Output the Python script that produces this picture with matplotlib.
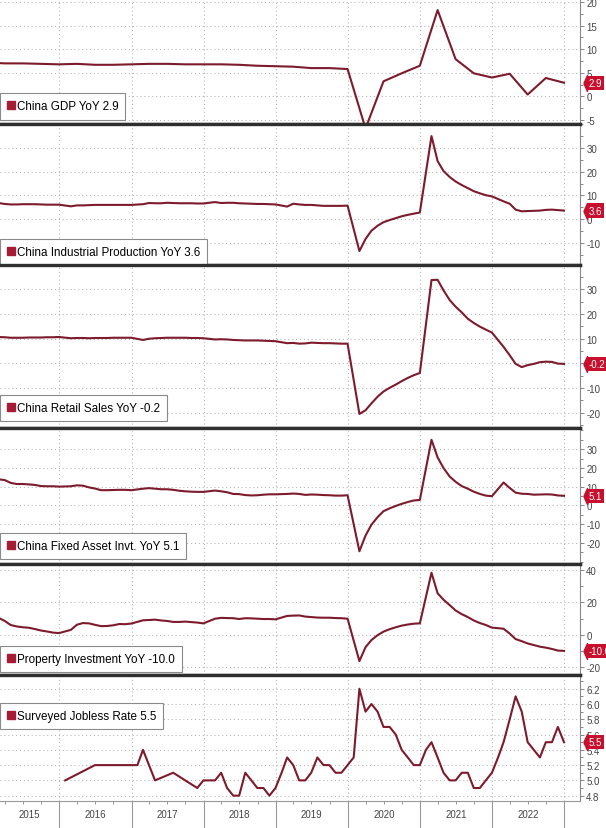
import numpy as np
import pandas as pd
import matplotlib.pyplot as plt
import matplotlib.dates as mdates
import matplotlib.transforms as mtransforms
from matplotlib.lines import Line2D
from matplotlib.ticker import FixedLocator, MultipleLocator, FormatStrFormatter

plt.rcParams['font.family'] = ['Liberation Sans', 'DejaVu Sans']

# ---- data (YoY %) ----
gdp_dates = pd.date_range('2014-12-31', '2022-12-31', freq='QE')
gdp = [7.2,
       7.0, 7.0, 6.9, 6.8,
       6.9, 6.7, 6.7, 6.8,
       6.9, 6.9, 6.8, 6.8,
       6.8, 6.7, 6.5, 6.4,
       6.3, 6.0, 6.0, 5.8,
       -6.8, 3.2, 4.9, 6.5,
       18.3, 7.9, 4.9, 4.0,
       4.8, 0.4, 3.9, 2.9]

# year-to-date series: Jan-Feb combined, so no January print
ytd_dates = [d for d in pd.date_range('2015-01-31', '2022-12-31', freq='ME') if d.month != 1]

ind_prod = [6.8, 6.4, 6.2, 6.2, 6.3, 6.3, 6.3, 6.2, 6.1, 6.1, 6.1,
            5.4, 5.8, 5.8, 5.9, 6.0, 6.0, 6.0, 6.0, 6.0, 6.0, 6.0,
            6.3, 6.8, 6.7, 6.7, 6.9, 6.8, 6.7, 6.7, 6.7, 6.6, 6.6,
            7.2, 6.8, 6.9, 6.9, 6.7, 6.6, 6.5, 6.4, 6.4, 6.3, 6.2,
            5.3, 6.5, 6.2, 6.0, 6.0, 5.8, 5.6, 5.6, 5.6, 5.6, 5.7,
            -13.5, -8.4, -4.9, -2.8, -1.3, -0.4, 0.4, 1.2, 1.8, 2.3, 2.8,
            35.1, 24.5, 20.3, 17.8, 15.9, 14.4, 13.1, 11.8, 10.9, 10.1, 9.6,
            7.5, 6.5, 4.0, 3.3, 3.4, 3.5, 3.6, 3.9, 4.0, 3.8, 3.6]

retail = [10.7, 10.6, 10.4, 10.4, 10.4, 10.5, 10.5, 10.5, 10.6, 10.6, 10.7,
          10.2, 10.3, 10.3, 10.2, 10.3, 10.3, 10.3, 10.4, 10.4, 10.4, 10.4,
          9.5, 10.0, 10.2, 10.3, 10.4, 10.4, 10.4, 10.4, 10.3, 10.3, 10.2,
          9.7, 9.8, 9.7, 9.5, 9.4, 9.3, 9.3, 9.3, 9.2, 9.1, 9.0,
          8.2, 8.3, 8.0, 8.1, 8.4, 8.3, 8.2, 8.2, 8.1, 8.0, 8.0,
          -20.5, -19.0, -16.2, -13.5, -11.4, -9.9, -8.6, -7.2, -5.9, -4.8, -3.9,
          33.8, 33.9, 29.6, 25.7, 23.0, 20.7, 18.1, 16.4, 14.9, 13.7, 12.5,
          6.7, 3.3, -0.2, -1.5, -0.7, -0.2, 0.5, 0.7, 0.6, -0.1, -0.2]

fixed_asset = [13.9, 13.5, 12.0, 11.4, 11.4, 11.2, 10.9, 10.3, 10.2, 10.2, 10.0,
               10.2, 10.7, 10.5, 9.6, 9.0, 8.1, 8.1, 8.2, 8.3, 8.3, 8.1,
               8.9, 9.2, 8.9, 8.6, 8.6, 8.3, 7.8, 7.5, 7.3, 7.2, 7.2,
               7.9, 7.5, 7.0, 6.1, 6.0, 5.5, 5.3, 5.4, 5.7, 5.9, 5.9,
               6.1, 6.3, 6.1, 5.6, 5.8, 5.7, 5.5, 5.4, 5.2, 5.2, 5.4,
               -24.5, -16.1, -10.3, -6.3, -3.1, -1.6, -0.3, 0.8, 1.8, 2.6, 2.9,
               35.0, 25.6, 19.9, 15.4, 12.6, 10.3, 8.9, 7.3, 6.1, 5.2, 4.9,
               12.2, 9.3, 6.8, 6.2, 6.1, 5.7, 5.8, 5.9, 5.8, 5.3, 5.1]

property_inv = [10.4, 8.5, 6.0, 5.1, 4.6, 4.3, 3.5, 2.6, 2.0, 1.3, 1.0,
                3.0, 6.2, 7.2, 7.0, 6.1, 5.3, 5.4, 5.8, 6.6, 6.5, 6.9,
                8.9, 9.1, 9.3, 8.8, 8.5, 7.9, 7.9, 8.1, 7.8, 7.5, 7.0,
                9.9, 10.4, 10.3, 10.2, 9.7, 10.2, 10.1, 9.9, 9.7, 9.7, 9.5,
                11.6, 11.8, 11.9, 11.2, 10.9, 10.6, 10.5, 10.5, 10.3, 10.2, 9.9,
                -16.3, -7.7, -3.3, -0.3, 1.9, 3.4, 4.6, 5.6, 6.3, 6.8, 7.0,
                38.3, 25.6, 21.6, 18.3, 15.0, 12.7, 10.9, 8.8, 7.2, 6.0, 4.4,
                3.7, 0.7, -2.7, -4.0, -5.4, -6.4, -7.4, -8.0, -8.8, -9.8, -10.0]

jobless_dates = pd.to_datetime(['2016-01-31', '2016-06-30', '2017-01-31', '2017-02-28',
                                '2017-04-30', '2017-07-31', '2017-11-30', '2017-12-31']
                               ).append(pd.date_range('2018-01-31', '2022-12-31', freq='ME'))
jobless = [5.0, 5.2, 5.2, 5.4, 5.0, 5.1, 4.9, 5.0,
           5.0, 5.0, 5.1, 4.9, 4.8, 4.8, 5.1, 5.0, 4.9, 4.9, 4.8, 4.9,
           5.1, 5.3, 5.2, 5.0, 5.0, 5.1, 5.3, 5.2, 5.2, 5.1, 5.1, 5.2,
           5.3, 6.2, 5.9, 6.0, 5.9, 5.7, 5.7, 5.6, 5.4, 5.3, 5.2, 5.2,
           5.4, 5.5, 5.3, 5.1, 5.0, 5.0, 5.1, 5.1, 4.9, 4.9, 5.0, 5.1,
           5.3, 5.5, 5.8, 6.1, 5.9, 5.5, 5.4, 5.3, 5.5, 5.5, 5.7, 5.5]

names = ['China GDP YoY', 'China Industrial Production YoY', 'China Retail Sales YoY',
         'China Fixed Asset Invt. YoY', 'Property Investment YoY', 'Surveyed Jobless Rate']
series = [(gdp_dates, gdp), (ytd_dates, ind_prod), (ytd_dates, retail),
          (ytd_dates, fixed_asset), (ytd_dates, property_inv), (jobless_dates, jobless)]
yticks = [[-5, 0, 5, 10, 15, 20],
          [-10, 0, 10, 20, 30],
          [-20, -10, 0, 10, 20, 30],
          [-20, -10, 0, 10, 20, 30],
          [-20, 0, 20, 40],
          [4.8, 5.0, 5.2, 5.4, 5.6, 5.8, 6.0, 6.2]]
years = [2015, 2016, 2017, 2018, 2019, 2020, 2021, 2022]

# ---- layout / style ----
LINE = '#7d1b2d'
TAG = '#c8102e'
GRID = '#b8b8b8'
SEP = '#2f2f2f'
W, H = 606, 829
edges = [0, 125, 266, 429, 565, 676, 802]          # panel borders in px from top
ylims = [(-5.85, 20.65), (-19.4, 40.2), (-26.2, 39.9), (-31.3, 41.3), (-24.9, 43.7), (4.73, 6.38)]
minors = [2.5, 5, 5, 5, 10, 0.1]
fmts = ['%d', '%d', '%d', '%d', '%d', '%.1f']
leg_pos = [(0.035, 'lower left'), (0.0, 'lower left'), (0.04, 'lower left'),
           (0.035, 'lower left'), (0.025, 'lower left'), (0.675, 'center left')]

# left-pointing notch for the value tags
notch = [(-0.45, 0), (0, -1), (0, 1), (-0.45, 0)]

fig = plt.figure(figsize=(W / 100, H / 100), dpi=100)
axes = []
for i in range(6):
    top, bot = edges[i], edges[i + 1]
    ax = fig.add_axes([0, 1 - bot / H, 580 / W, (bot - top) / H],
                      sharex=axes[0] if axes else None)
    axes.append(ax)

    x, y = series[i]
    ax.plot(x, y, color=LINE, lw=1.5, solid_joinstyle='round', zorder=3)

    ax.set_ylim(*ylims[i])
    ax.yaxis.set_major_locator(FixedLocator(yticks[i]))
    ax.yaxis.set_minor_locator(MultipleLocator(minors[i]))
    ax.yaxis.set_major_formatter(FormatStrFormatter(fmts[i]))
    ax.yaxis.tick_right()
    ax.tick_params(axis='y', which='both', colors='#888', labelcolor='#444',
                   labelsize=7, direction='out', pad=1.5, width=0.7)
    ax.tick_params(axis='y', which='major', length=3)
    ax.tick_params(axis='y', which='minor', length=1.8)
    ax.grid(True, which='major', ls=(0, (1, 2.5)), color=GRID, lw=0.8)

    ax.spines['left'].set_visible(False)
    ax.spines['right'].set_color('#888')
    ax.spines['right'].set_linewidth(0.8)
    if i == 0:
        ax.spines['top'].set_visible(False)
    else:
        ax.spines['top'].set_color(SEP)
        ax.spines['top'].set_linewidth(2.4)
    if i < 5:
        ax.spines['bottom'].set_color(SEP)
        ax.spines['bottom'].set_linewidth(2.4)
        ax.tick_params(axis='x', which='both', length=0, labelbottom=False)
    else:
        ax.spines['bottom'].set_color('#999')
        ax.spines['bottom'].set_linewidth(0.8)

    last = y[-1]
    label = '%s %s' % (names[i], '%.1f' % last)
    handle = Line2D([], [], marker='s', color='#a51c34', ls='none', markersize=6)
    lpos, lloc = leg_pos[i]
    leg = ax.legend([handle], [label], loc=lloc, bbox_to_anchor=(0, lpos),
                    borderaxespad=0, fancybox=False, fontsize=8.4, handlelength=0.6,
                    handletextpad=0.2, borderpad=0.62, edgecolor='#8a8a8a', framealpha=1)
    leg.get_frame().set_linewidth(0.8)

    # red value tag on the right axis
    blend = mtransforms.blended_transform_factory(ax.transAxes, ax.transData)
    ax.plot([1], [last], marker=notch, markersize=11.5, color=TAG, ls='none',
            transform=mtransforms.offset_copy(blend, fig, x=4.8, units='points'),
            clip_on=False, zorder=10)
    ax.annotate('%.1f' % last, xy=(1, last), xycoords=('axes fraction', 'data'),
                xytext=(6.3, 0), textcoords='offset points', ha='left', va='center',
                fontsize=7, color='white', annotation_clip=False, zorder=11,
                bbox=dict(boxstyle='square,pad=0.22', fc=TAG, ec='none'))

# x axis: year boundaries as long ticks, year names in between
ax6 = axes[-1]
ax6.set_xlim(pd.Timestamp('2015-03-07'), pd.Timestamp('2023-03-22'))
ax6.set_xticks(pd.date_range('2016-01-01', '2023-01-01', freq='YS'))
ax6.xaxis.set_major_formatter(plt.NullFormatter())
ax6.xaxis.set_minor_locator(mdates.MonthLocator(bymonth=[4, 7, 10]))
ax6.tick_params(axis='x', which='major', length=20, color='#999', width=0.8)
ax6.tick_params(axis='x', which='minor', length=2.5, color='#999', width=0.7)
left = mdates.date2num(pd.Timestamp('2015-03-07'))
for yr in years:
    if yr == 2015:
        xm = (left + mdates.date2num(pd.Timestamp('2016-01-01'))) / 2
    else:
        xm = mdates.date2num(pd.Timestamp('%d-07-02' % yr))
    ax6.text(xm, -0.105, str(yr), transform=ax6.get_xaxis_transform(),
             ha='center', va='center', fontsize=7, color='#444')

fig.savefig('out.png', dpi=100)
